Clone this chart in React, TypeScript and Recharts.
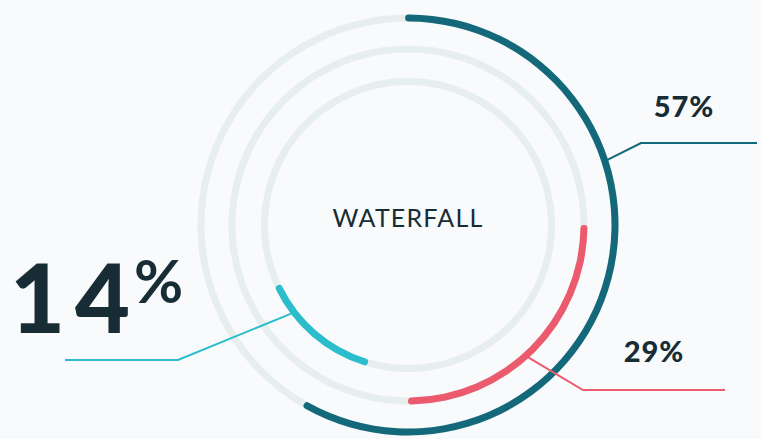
import { PieChart, Pie, Cell } from 'recharts';

// Rings, outer to inner.
const ringNames = ['Outer', 'Middle', 'Inner'];
const labelValues = [57, 29, 14];
// Arc length as drawn (percent of the full circle) and where each arc starts,
// clockwise from 12 o'clock in degrees.
const arcShares = [58.6, 25, 13.6];
const arcStarts = [-0.8, 90, 196.2];
const centerTitle = 'WATERFALL';

const RING_COLORS = ['#13687a', '#ec5a6e', '#2bbdcc'];
const TRACK = '#e7eeee';
const INK = '#182c35';
const BG = '#f8fafc';

const W = 761;
const H = 439;
const CX = 408;
const CY = 225;
const RADII = [207, 176, 143.5];
const THICK = 7;

// Callout layout: anchor angle on the ring (cw from top), elbow point, line end x,
// and where the number sits.
const CALLOUTS = [
  { angle: 72, elbow: [641, 143], endX: 757, text: { x: 684, y: 117, size: 29 } },
  { angle: 138, elbow: [583, 390], endX: 725, text: { x: 654, y: 362, size: 29 } },
  { angle: 232.5, elbow: [178, 360], endX: 65, text: null },
];

function polar(cx: number, cy: number, r: number, cwDeg: number) {
  const a = (cwDeg * Math.PI) / 180;
  return [cx + r * Math.sin(a), cy - r * Math.cos(a)];
}

function makeLabel(i: number) {
  return (props: any) => {
    if (props.index !== 0) return <g />;
    const c = CALLOUTS[i];
    const [ax, ay] = polar(props.cx, props.cy, RADII[i], c.angle);
    const color = RING_COLORS[i];
    return (
      <g>
        <polyline
          points={`${ax},${ay} ${c.elbow[0]},${c.elbow[1]} ${c.endX},${c.elbow[1]}`}
          fill="none"
          stroke={color}
          strokeWidth={2}
        />
        {c.text && (
          <text
            x={c.text.x}
            y={c.text.y}
            textAnchor="middle"
            fill={INK}
            fontFamily="Lato"
            fontWeight={900}
            fontSize={c.text.size}
            letterSpacing={1}
          >
            {labelValues[i]}%
          </text>
        )}
      </g>
    );
  };
}

export default function App() {
  const big = String(labelValues[2]).split('');
  return (
    <div style={{ position: 'absolute', left: 0, top: 0, width: W, height: H, background: BG }}>
      <PieChart width={W} height={H} margin={{ top: 0, right: 0, bottom: 0, left: 0 }}>
        {ringNames.map((name, i) => (
          <Pie
            key={`track-${name}`}
            data={[{ name, value: 100 }]}
            dataKey="value"
            cx={CX}
            cy={CY}
            innerRadius={RADII[i] - THICK / 2}
            outerRadius={RADII[i] + THICK / 2}
            startAngle={90}
            endAngle={-270}
            stroke="none"
            fill={TRACK}
            isAnimationActive={false}
          />
        ))}
        {ringNames.map((name, i) => (
          <Pie
            key={`arc-${name}`}
            data={[
              { name, value: arcShares[i] },
              { name: 'rest', value: 100 - arcShares[i] },
            ]}
            dataKey="value"
            cx={CX}
            cy={CY}
            innerRadius={RADII[i] - THICK / 2}
            outerRadius={RADII[i] + THICK / 2}
            startAngle={90 - arcStarts[i]}
            endAngle={90 - arcStarts[i] - 360}
            cornerRadius={THICK / 2}
            stroke="none"
            label={makeLabel(i)}
            labelLine={false}
            isAnimationActive={false}
          >
            <Cell fill={RING_COLORS[i]} />
            <Cell fill="transparent" />
          </Pie>
        ))}
        <text
          x={CX}
          y={227}
          textAnchor="middle"
          fill={INK}
          fontFamily="Lato"
          fontSize={25}
          letterSpacing={1.2}
        >
          {centerTitle}
        </text>
        <text x={10} y={333} fill={INK} fontFamily="Lato" fontWeight={900} fontSize={95}>
          {big.map((ch, k) => (
            <tspan key={k} letterSpacing={k < big.length - 1 ? 10 : 0}>{ch}</tspan>
          ))}
        </text>
        <text x={134} y={303} fill={INK} fontFamily="Lato" fontWeight={700} fontSize={60}>
          %
        </text>
      </PieChart>
    </div>
  );
}
